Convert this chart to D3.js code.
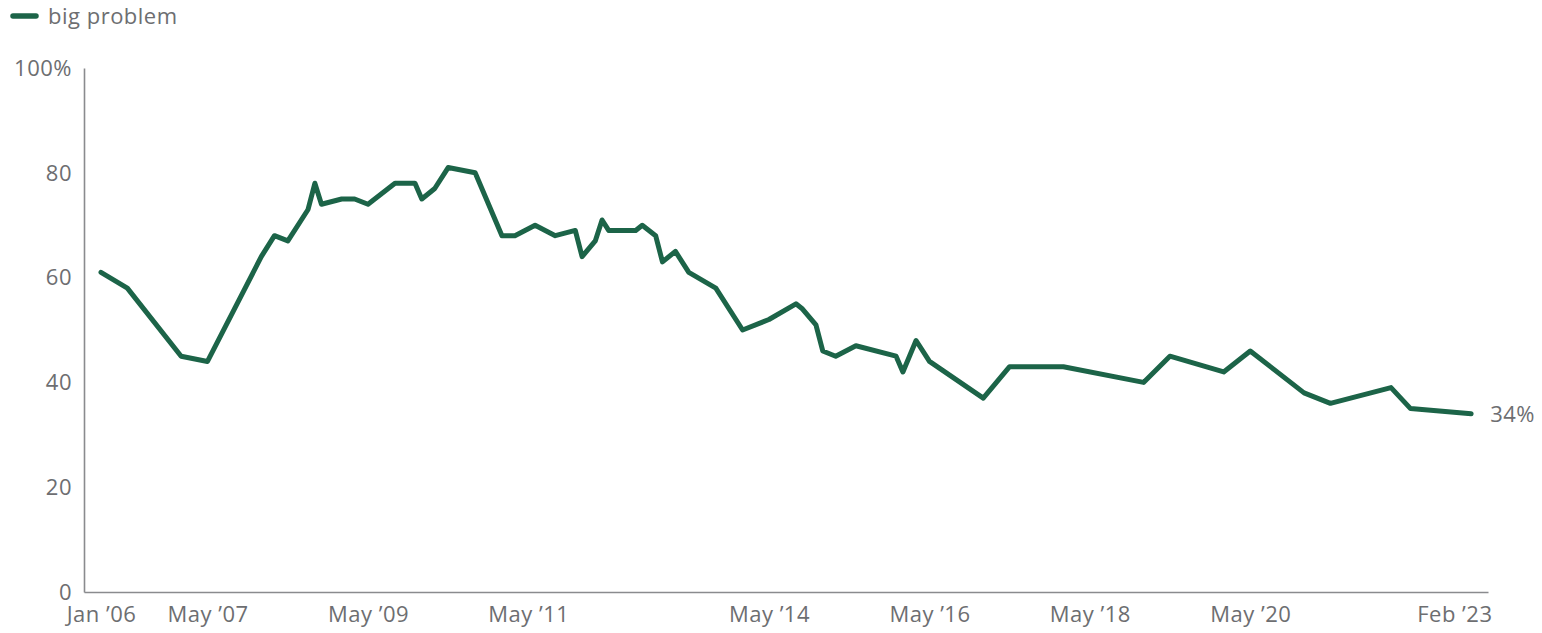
<!DOCTYPE html>
<html>
<head>
<meta charset="utf-8">
<script src="https://cdn.jsdelivr.net/npm/d3@7"></script>
<style>
  html, body { margin: 0; padding: 0; background: #fff; }
  svg { display: block; }
  text { font-family: "Open Sans", Lato, sans-serif; fill: #6d6e71; letter-spacing: 0.5px; }
</style>
</head>
<body>
<svg id="chart" width="1542" height="633"></svg>
<script>
// ---- data ----
const dates = ["2006-01","2006-05","2007-01","2007-05","2008-01","2008-03","2008-05","2008-08","2008-09","2008-10",
  "2009-01","2009-03","2009-05","2009-09","2009-12","2010-01","2010-03","2010-05","2010-09","2011-01",
  "2011-03","2011-06","2011-09","2011-12","2012-01","2012-03","2012-04","2012-05","2012-09","2012-10",
  "2012-12","2013-01","2013-03","2013-05","2013-09","2014-01","2014-05","2014-09","2014-10","2014-12",
  "2015-01","2015-03","2015-06","2015-12","2016-01","2016-03","2016-05","2017-01","2017-05","2018-01",
  "2019-01","2019-05","2020-01","2020-05","2021-01","2021-05","2022-02","2022-05","2023-02"];
const bigProblem = [61,58,45,44,64,68,67,73,78,74,
  75,75,74,78,78,75,77,81,80,68,
  68,70,68,69,64,67,71,69,69,70,
  68,63,65,61,58,50,52,55,54,51,
  46,45,47,45,42,48,44,37,43,43,
  40,45,42,46,38,36,39,35,34];
const seriesName = "big problem";
const tickDates = ["2006-01","2007-05","2009-05","2011-05","2014-05","2016-05","2018-05","2020-05","2023-02"];
const tickLabels = ["Jan \u201906","May \u201907","May \u201909","May \u201911","May \u201914","May \u201916","May \u201918","May \u201920","Feb \u201923"];
const yTicks = [0,20,40,60,80,100];

// ---- setup ----
const parse = d3.timeParse("%Y-%m");
const data = dates.map((d,i) => ({date: parse(d), value: bigProblem[i]}));
const svg = d3.select("#chart");
const green = "#1c6448";
const axisColor = "#8a8b8e";
const fontSize = "22px";

const mLeft = 84, mRight = 1488, mTop = 68, mBottom = 592;

// time scale calibrated so Jan 2006 sits at ~101px and ~80px per year
const t0 = parse("2006-01");
const yearMs = 365.25*24*3600*1000;
const pxPerYear = 80.2;
const x = d3.scaleTime()
  .domain([new Date(+t0 - (101-mLeft)/pxPerYear*yearMs), new Date(+t0 + (mRight-101)/pxPerYear*yearMs)])
  .range([mLeft, mRight]);
const y = d3.scaleLinear().domain([0,100]).range([mBottom, mTop]);

// ---- axes ----
const yAxis = d3.axisLeft(y).tickValues(yTicks).tickSize(0).tickPadding(12)
  .tickFormat(d => d === 100 ? "100%" : d);
const gy = svg.append("g").attr("transform", `translate(${mLeft},0)`).call(yAxis);
gy.select(".domain").attr("stroke", axisColor).attr("stroke-width", 1.6);
gy.selectAll("text").style("font-size", fontSize).attr("fill", "#6d6e71").attr("dy", "0.33em");

const xAxis = d3.axisBottom(x).tickValues(tickDates.map(parse)).tickSize(0).tickPadding(8)
  .tickFormat((d,i) => tickLabels[i]);
const gx = svg.append("g").attr("transform", `translate(0,${mBottom})`).call(xAxis);
gx.select(".domain").attr("stroke", axisColor).attr("stroke-width", 1.6);
gx.selectAll("text").style("font-size", fontSize).attr("fill", "#6d6e71").attr("dy", "1em");
// keep last label inside the plot's right edge
gx.selectAll(".tick").filter((d,i) => i === tickDates.length-1).select("text")
  .attr("text-anchor", "end").attr("dx", (mRight + 4 - x(parse(tickDates[tickDates.length-1]))) + "px");

// ---- line ----
const line = d3.line().x(d => x(d.date)).y(d => y(d.value));
svg.append("path").datum(data)
  .attr("d", line)
  .attr("fill", "none")
  .attr("stroke", green)
  .attr("stroke-width", 5)
  .attr("stroke-linejoin", "round")
  .attr("stroke-linecap", "round");

// end label
const last = data[data.length-1];
svg.append("text")
  .attr("x", x(last.date) + 19)
  .attr("y", y(last.value))
  .attr("dy", "0.35em")
  .style("font-size", fontSize)
  .text(last.value + "%");

// ---- legend ----
const lg = svg.append("g");
lg.append("line").attr("x1", 13).attr("x2", 36).attr("y1", 16).attr("y2", 16)
  .attr("stroke", green).attr("stroke-width", 5.5).attr("stroke-linecap", "round");
lg.append("text").attr("x", 48).attr("y", 16).attr("dy", "0.35em")
  .style("font-size", fontSize).text(seriesName);
</script>
</body>
</html>
